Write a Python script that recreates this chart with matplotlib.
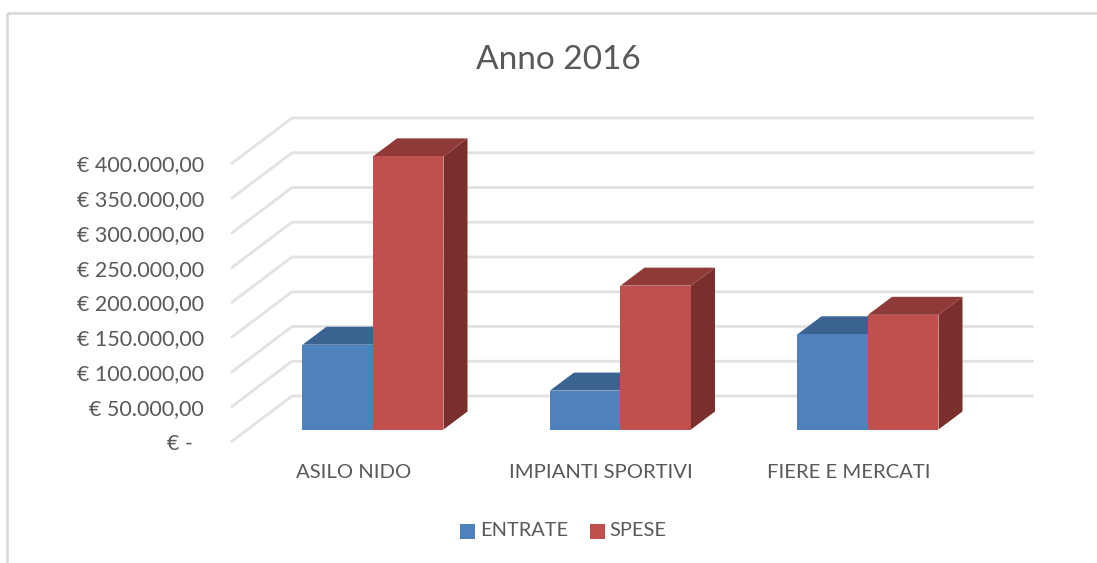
import matplotlib
matplotlib.use("Agg")
import matplotlib.pyplot as plt
from matplotlib.patches import Polygon, Rectangle

plt.rcParams["font.family"] = ["Lato", "DejaVu Sans"]

categories = ["ASILO NIDO", "IMPIANTI SPORTIVI", "FIERE E MERCATI"]
entrate = [122000, 56000, 137000]
spese = [393000, 207000, 165000]
ticks = [0, 50000, 100000, 150000, 200000, 250000, 300000, 350000, 400000]
tick_labels = ["€ -", "€ 50.000,00", "€ 100.000,00", "€ 150.000,00", "€ 200.000,00",
               "€ 250.000,00", "€ 300.000,00", "€ 350.000,00", "€ 400.000,00"]

W, H = 1097, 563
TEXT = "#595959"
GRID = "#E2E2E2"

fig = plt.figure(figsize=(W / 100, H / 100), dpi=100)
ax = fig.add_axes([0, 0, 1, 1])
ax.axis("off")

# axes limits put the bars' front plane where it sits in the picture
px_per_euro = 278 / 400000
px_per_cat = 247.5
ax.set_xlim((0 - 373) / px_per_cat, (W - 373) / px_per_cat)
ax.set_ylim((429.5 - H) / px_per_euro, 429.5 / px_per_euro)
x0 = -373 / px_per_cat  # left edge of the picture in data coords


# point in data coords, shifted by some pixels (dy up is negative like the image)
def pt(x, y, dx=0, dy=0):
    return (x + dx / px_per_cat, y - dy / px_per_euro)


# chart frame
frame = dict(color="#DADADA", lw=2, solid_capstyle="butt")
ax.plot(*zip(pt(x0, 0, 7, 133.5), pt(x0, 0, 7, -416.5)), **frame)
ax.plot(*zip(pt(x0, 0, 7, -416.5), pt(x0, 0, W, -416.5)), **frame)

# walls: side gridlines then back gridlines
for v in ticks:
    line = [pt(x0, v, 231, 12.5), pt(x0, v, 292, -33.5), pt(x0, v, 1034, -33.5)]
    ax.plot(*zip(*line), color=GRID, lw=2, zorder=1, solid_joinstyle="miter",
            solid_capstyle="butt")

# bars
bar_w = 70.5 / px_per_cat
depth_x, depth_y = 24, -18


def bar(x_left, value, front, top, side):
    x_right = x_left + bar_w
    ax.add_patch(Polygon([pt(x_right, 0), pt(x_right, 0, depth_x, depth_y),
                          pt(x_right, value, depth_x, depth_y), pt(x_right, value)],
                         fc=side, ec="none", zorder=3))
    ax.add_patch(Polygon([pt(x_left, value), pt(x_left, value, depth_x, depth_y),
                          pt(x_right, value, depth_x, depth_y), pt(x_right, value)],
                         fc=top, ec="none", zorder=3))
    ax.add_patch(Rectangle((x_left, 0), bar_w, value, fc=front, ec="none", zorder=3))


for i in range(len(categories)):
    bar(i - bar_w, entrate[i], "#4F81BD", "#3A6391", "#2F5078")
    bar(i, spese[i], "#C0504D", "#8F3A38", "#7B2F2D")
    ax.text(*pt(i, 0, -19.5, 43.5), categories[i], color=TEXT, fontsize=14.6,
            ha="center", va="center")

for v, lab in zip(ticks, tick_labels):
    if v == 0:
        ax.text(*pt(x0, v, 180, 14), lab, color=TEXT, fontsize=15.5, ha="center", va="center")
    else:
        ax.text(*pt(x0, v, 204, 14), lab, color=TEXT, fontsize=15.5, ha="right", va="center")

ax.text(*pt(x0, 0, 558, -369), "Anno 2016", color=TEXT, fontsize=24,
        ha="center", va="center")

# legend
ax.add_patch(Rectangle(pt(x0, 0, 460, 109.5), 15 / px_per_cat, 15 / px_per_euro, fc="#4F81BD", ec="none"))
ax.add_patch(Rectangle(pt(x0, 0, 590, 109.5), 15 / px_per_cat, 15 / px_per_euro, fc="#C0504D", ec="none"))
ax.text(*pt(x0, 0, 480, 100.5), "ENTRATE", color=TEXT, fontsize=14.4, ha="left", va="center")
ax.text(*pt(x0, 0, 609, 100.5), "SPESE", color=TEXT, fontsize=14.4, ha="left", va="center")

fig.savefig("out.png", dpi=100)
